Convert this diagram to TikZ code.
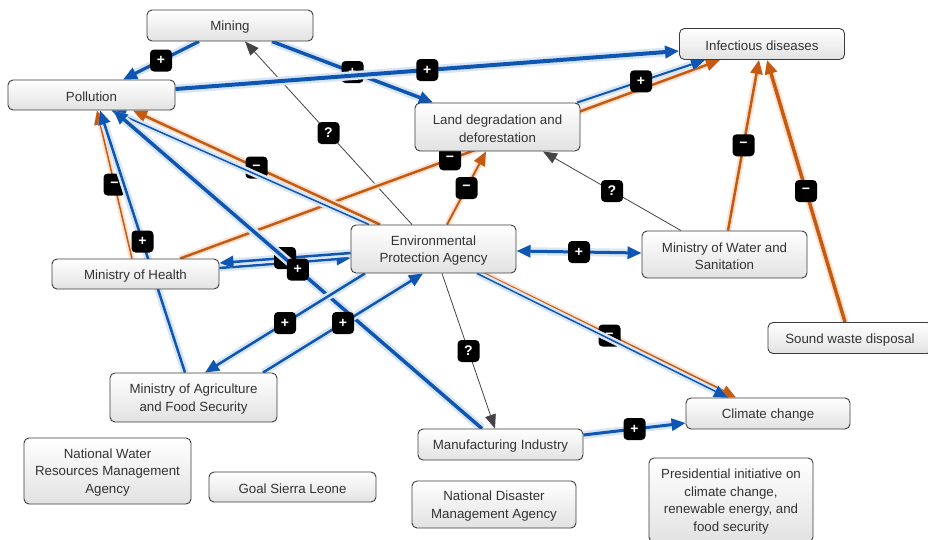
\documentclass[tikz,border=0pt]{standalone}
\usepackage{fontspec}
\setmainfont{Liberation Sans}
\usetikzlibrary{arrows.meta,calc,backgrounds}
\pgfdeclarelayer{bottom}
\pgfsetlayers{bottom,background,main}
\definecolor{cblue}{HTML}{0F56B3}
\definecolor{hblue}{HTML}{D8E5F5}
\definecolor{corange}{HTML}{C55A11}
\definecolor{horange}{HTML}{FAE1D0}
\definecolor{ctext}{HTML}{333333}
\definecolor{cborder}{HTML}{3C3C3C}
\definecolor{cshade}{HTML}{E2E2E2}
\definecolor{cgray}{HTML}{444444}
\begin{document}
\begin{tikzpicture}[x=1pt,y=-1pt,
  bx/.style={draw=cborder, line width=0.9pt, rounded corners=5pt, top color=white, bottom color=cshade, inner sep=0pt},
  tx/.style={text=ctext, align=center, inner sep=0pt, font=\fontsize{13.3}{17.5}\selectfont},
  lab/.style={fill=black, rounded corners=4pt, minimum size=22pt, inner sep=0pt, text=white,
    font=\bfseries\fontsize{14}{14}\selectfont},
  posline/.style={draw=cblue, line width=#1, preaction={draw=hblue, line width=#1+5pt}},
  negline/.style={draw=corange, line width=#1, preaction={draw=horange, line width=#1+4pt}},
  unkline/.style={draw=cgray, line width=0.8pt},
  tip/.style={-{Triangle[length=14pt,width=12pt]}},
  tipb/.style={{Triangle[length=14pt,width=12pt]}-{Triangle[length=14pt,width=12pt]}},
  gtip/.style={-{Triangle[length=14pt,width=11pt]}}
]
\useasboundingbox (0,0) rectangle (928,539);
\begin{pgfonlayer}{bottom}
\fill[white] (0,0) rectangle (928,539);
\end{pgfonlayer}

% boxes
\node[bx, minimum width=166pt, minimum height=31pt] (mining) at (230,25.5) {};
\node[bx, minimum width=167pt, minimum height=30pt] (poll) at (91.5,95) {};
\node[bx, minimum width=165pt, minimum height=31pt] (infect) at (762,44) {};
\node[bx, minimum width=165pt, minimum height=48pt] (land) at (497.5,127) {};
\node[bx, minimum width=165pt, minimum height=48pt] (epa) at (433.5,249) {};
\node[bx, minimum width=167pt, minimum height=30pt] (health) at (135.5,274) {};
\node[bx, minimum width=165pt, minimum height=47pt] (mws) at (724.5,254.5) {};
\node[bx, minimum width=164pt, minimum height=31pt] (swd) at (850,338) {};
\node[bx, minimum width=167pt, minimum height=49pt] (agric) at (193.5,397.5) {};
\node[bx, minimum width=167pt, minimum height=66pt] (nwrma) at (107.5,471) {};
\node[bx, minimum width=167pt, minimum height=30pt] (goal) at (292.5,487) {};
\node[bx, minimum width=164pt, minimum height=47pt] (ndma) at (494,504.5) {};
\node[bx, minimum width=165pt, minimum height=31pt] (manuf) at (500.5,444.5) {};
\node[bx, minimum width=164pt, minimum height=31pt] (climate) at (768,413.5) {};
\node[bx, minimum width=164pt, minimum height=84pt] (pres) at (731,500) {};

% texts
\node[tx] (miningt) at ($(mining.center)+(0,2)$) {Mining};
\node[tx] (pollt) at ($(poll.center)+(0,2)$) {Pollution};
\node[tx] (infectt) at ($(infect.center)+(0,2)$) {Infectious diseases};
\node[tx] (landt) at ($(land.center)+(0,1.5)$) {Land degradation and\\deforestation};
\node[tx] (epat) at ($(epa.center)+(0,1.5)$) {Environmental\\Protection Agency};
\node[tx] (healtht) at ($(health.center)+(0,2)$) {Ministry of Health};
\node[tx] (mwst) at ($(mws.center)+(0,1.5)$) {Ministry of Water and\\Sanitation};
\node[tx] (swdt) at ($(swd.center)+(0,2)$) {Sound waste disposal};
\node[tx] (agrict) at ($(agric.center)+(0,1.5)$) {Ministry of Agriculture\\and Food Security};
\node[tx] (nwrmat) at ($(nwrma.center)+(0,1.5)$) {National Water\\Resources Management\\Agency};
\node[tx] (goalt) at ($(goal.center)+(0,2)$) {Goal Sierra Leone};
\node[tx] (ndmat) at ($(ndma.center)+(0,1.5)$) {National Disaster\\Management Agency};
\node[tx] (manuft) at ($(manuf.center)+(0,2)$) {Manufacturing Industry};
\node[tx] (climatet) at ($(climate.center)+(0,2)$) {Climate change};
\node[tx] (prest) at ($(pres.center)+(0,1.5)$) {Presidential initiative on\\climate change,\\renewable energy, and\\food security};

\begin{scope}[on background layer]
\draw[posline=3.2pt,tip] ($(mining.south)+(-31,0)$) -- ($(poll.north)+(31.5,0)$) node[lab,midway]{+};
\draw[posline=3.5pt,tip] ($(mining.south)+(42,0)$) -- ($(land.north)+(-64.5,0)$) node[lab,midway]{+};
\draw[unkline,gtip] ($(epa.north)+(-21.5,0)$) -- ($(mining.south)+(15,0)$) node[lab,midway]{?};
\draw[negline=2.5pt,tip] ($(health.north)+(44.5,0)$) -- ($(infect.south)+(-42,0)$) node[lab,midway]{−};
\draw[posline=4pt,tip] ($(poll.east)+(0,-6)$) -- ($(infect.west)+(0,7)$) node[lab,midway]{+};
\draw[posline=2pt,tip] ($(land.north)+(79.5,0)$) -- ($(infect.south)+(-57,0)$) node[lab,midway]{+};
\draw[negline=2pt,tip] ($(epa.north)+(13.5,0)$) -- ($(land.south)+(-11.5,0)$) node[lab,midway]{−};
\draw[unkline,gtip] ($(mws.north)+(-43.5,0)$) -- ($(land.south)+(45.5,0)$) node[lab,midway]{?};
\draw[negline=2.5pt,tip] ($(mws.north)+(3.5,0)$) -- ($(infect.south)+(-3,0)$) node[lab,midway]{−};
\draw[negline=3.5pt,tip] ($(swd.north)+(-5,0)$) -- ($(infect.south)+(5,0)$) node[lab,midway]{−};
\draw[posline=3pt,tipb] ($(epa.east)+(0,2)$) -- ($(mws.west)+(0,-1.5)$) node[lab,midway]{+};
\draw[negline=1.5pt,tip] ($(health.north)+(-3.5,0)$) -- ($(poll.south)+(5.5,0)$) node[lab,midway]{−};
\draw[posline=2.5pt,tip] ($(agric.north)+(-8.5,0)$) -- ($(poll.south)+(8.5,0)$) node[lab,midway]{+};
\draw[negline=2.5pt,tip] ($(epa.north)+(-53.5,0)$) -- ($(poll.south)+(41.5,0)$) node[lab,midway]{−};
\draw[posline=1.5pt,tip] ($(epa.north)+(-64.5,0)$) -- ($(poll.south)+(20,0)$);
\draw[negline=3pt,tip] ($(epa.south)+(49.5,0)$) -- ($(climate.north)+(-32,0)$) node[lab,midway]{−};
\draw[posline=1.5pt,tip] ($(epa.south)+(43.5,0)$) -- ($(climate.north)+(-40,0)$);
\draw[posline=2.5pt,tip] ($(health.east)+(0,-6)$) -- ($(epa.west)+(0,9)$);
\draw[posline=2.5pt,tip] ($(epa.west)+(0,4)$) -- ($(health.east)+(0,-11)$) node[lab,midway]{+};
\draw[posline=3.5pt,tip] ($(manuf.north)+(-18.5,0)$) -- ($(poll.south)+(22,0)$) node[lab,midway]{+};
\draw[posline=2.5pt,tip] ($(epa.south)+(-68.5,0)$) -- ($(agric.north)+(11.5,0)$) node[lab,midway]{+};
\draw[posline=2.5pt,tip] ($(agric.north)+(69.5,0)$) -- ($(epa.south)+(-10.5,0)$) node[lab,midway]{+};
\draw[unkline,gtip] ($(epa.south)+(8.5,0)$) -- ($(manuf.north)+(-5.5,0)$) node[lab,midway]{?};
\draw[posline=3pt,tip] ($(manuf.east)+(0,-9.5)$) -- ($(climate.west)+(0,9.5)$) node[lab,midway]{+};
\end{scope}
\end{tikzpicture}
\end{document}
